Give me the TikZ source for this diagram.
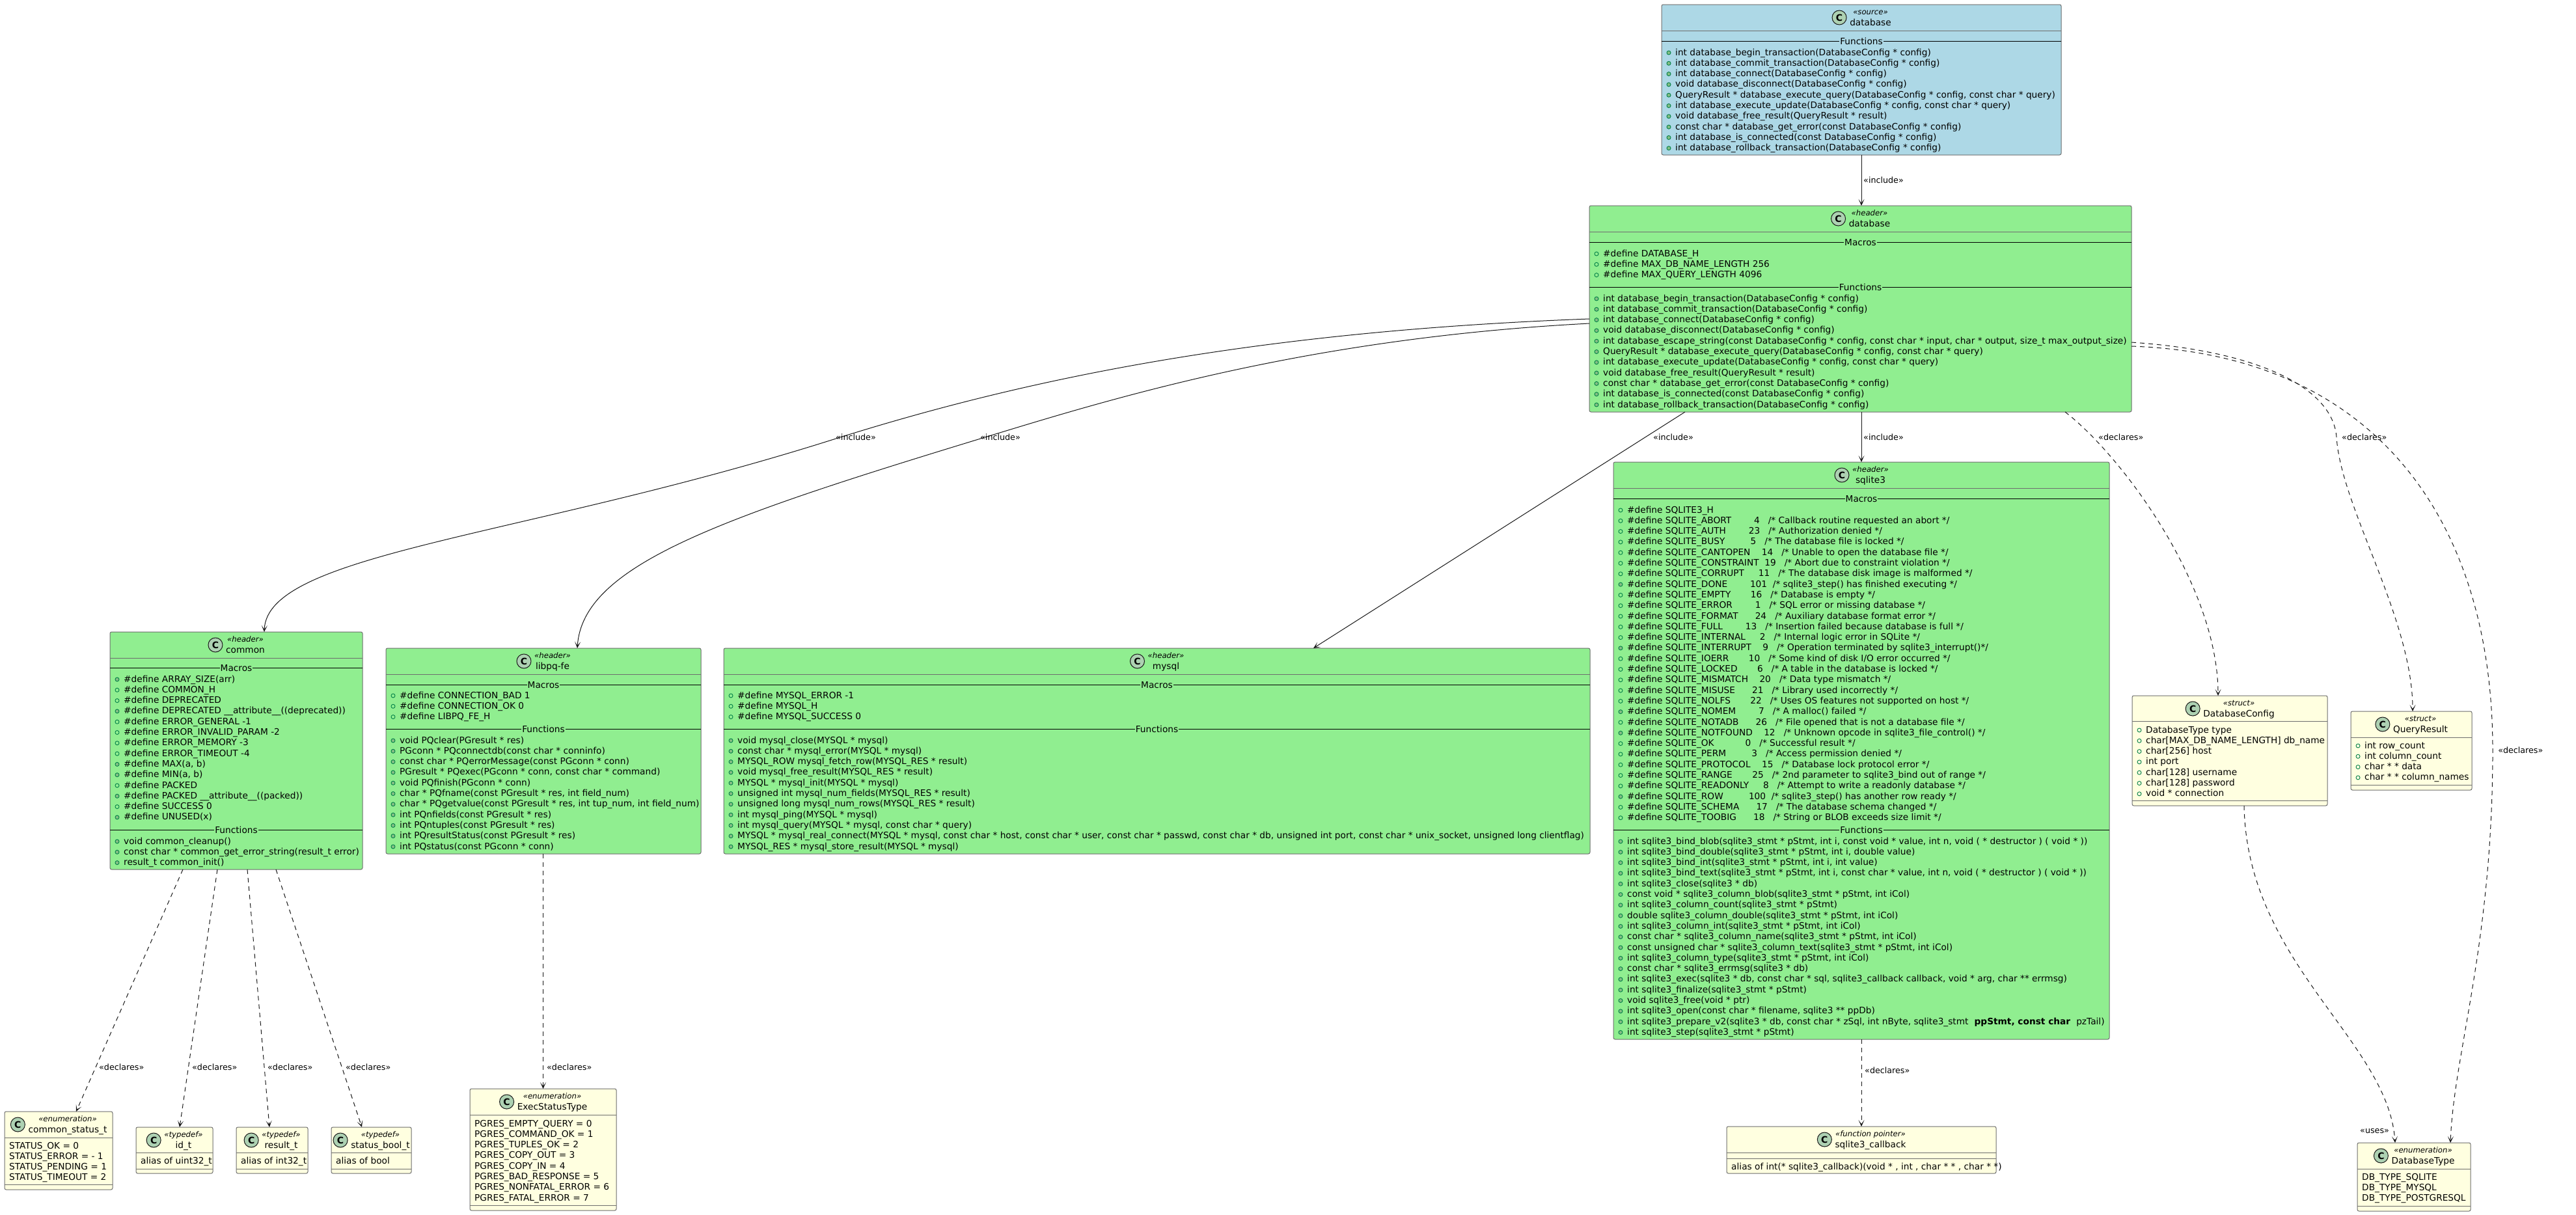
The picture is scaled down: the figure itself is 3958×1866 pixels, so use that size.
\documentclass[tikz,border=0pt]{standalone}
\usepackage{fontspec}
\setmainfont{DejaVu Sans}
\usetikzlibrary{arrows.meta,calc}
\definecolor{gfill}{HTML}{90EE90}
\definecolor{bfill}{HTML}{ADD8E6}
\definecolor{yfill}{HTML}{FFFFE0}
\definecolor{bord}{HTML}{6E6E6E}
\definecolor{cfill}{HTML}{ADD1B2}
\definecolor{ink}{HTML}{181818}
\definecolor{mfill}{HTML}{84BE84}
\definecolor{mline}{HTML}{038048}
\newcommand\rowfont{\fontsize{13.7bp}{16bp}\selectfont}
\newcommand\stereofont{\fontsize{11.7bp}{14bp}\selectfont\itshape}
\newcommand\namefont{\fontsize{13.7bp}{16bp}\selectfont}
\newcommand\lblfont{\fontsize{12.7bp}{15bp}\selectfont}
\newcommand\spc[1]{\hskip#1\fontdimen2\font\relax}
\tikzset{
  boxn/.style={draw=bord, line width=1bp, rounded corners=2.5bp, inner sep=0pt, outer sep=0pt},
  hsep/.style={draw=bord, line width=1bp},
  dsep/.style={draw=black, line width=1bp},
  rowt/.style={anchor=base west, inner sep=0pt, font=\rowfont, text=black},
  dvt/.style={anchor=base, inner sep=0pt, inner xsep=1bp, font=\rowfont},
  fbul/.style={draw=mline, line width=0.9bp},
  mbul/.style={draw=mline, line width=0.9bp, fill=mfill},
  cc/.style={circle, draw=ink, line width=1bp, fill=cfill, minimum size=22bp, inner sep=0pt, font=\bfseries\fontsize{14bp}{14bp}\selectfont},
  stt/.style={anchor=base, inner sep=0pt, font=\stereofont},
  nmt/.style={anchor=base, inner sep=0pt, font=\namefont},
  lbl/.style={anchor=west, inner sep=0pt, font=\lblfont},
  dep/.style={draw=ink, line width=1bp, -{Stealth[length=10bp,width=9bp,inset=6bp]}},
  decl/.style={dep, dash pattern=on 7bp off 6bp},
}
% box: name l t r b headerline fill
\newcommand\bx[7]{%
  \node[boxn, fill=#7, anchor=north west, minimum width={(#4-#2)*1bp}, minimum height={(#5-#3)*1bp}] (#1) at (#2,#3) {};
  \draw[hsep] (#2,#6) -- (#4,#6);}
% title: cx top stereotype name
\newcommand\ttl[4]{%
  \node[stt] (ts) at ({#1+14},{#2+15.5}) {«#3»};
  \node[nmt] (tn) at ({#1+14},{#2+32}) {#4};
  \path let \p1=(ts.west), \p2=(tn.west), \p3=(0,{#2+20}) in node[cc] at ({min(\x1,\x2)-16bp},\y3) {C};}
% rows: left y0 index text
\newcommand\fr[4]{%
  \draw[fbul] ({#1+11},{#2+#3*16.3+1}) circle[radius=3bp];
  \node[rowt] at ({#1+21},{#2+#3*16.3+5}) {#4};}
\newcommand\mr[4]{%
  \draw[mbul] ({#1+11},{#2+#3*16.3+1}) circle[radius=3bp];
  \node[rowt] at ({#1+21},{#2+#3*16.3+5}) {#4};}
\newcommand\pr[4]{%
  \node[rowt] at ({#1+7},{#2+#3*16.3+5}) {#4};}
% divider: l r y label fill
\newcommand\dv[5]{%
  \draw[dsep] (#1,#3) -- (#2,#3);
  \node[dvt, fill=#5] at ({(#1+#2)/2},{#3+5}) {#4};}
\begin{document}
\catcode`\_=12
\begin{tikzpicture}[x=1bp,y=-1bp]
\useasboundingbox (0,0) rectangle (3958,1866);
\fill[white] (0,0) rectangle (3958,1866);

% ---------- source database
\bx{src}{2553}{7}{3167}{238}{47}{bfill}
\ttl{2860}{7}{source}{database}
\dv{2553}{3167}{63}{Functions}{bfill}
\mr{2553}{80}{0}{int database_begin_transaction(DatabaseConfig * config)}
\mr{2553}{80}{1}{int database_commit_transaction(DatabaseConfig * config)}
\mr{2553}{80}{2}{int database_connect(DatabaseConfig * config)}
\mr{2553}{80}{3}{void database_disconnect(DatabaseConfig * config)}
\mr{2553}{80}{4}{QueryResult * database_execute_query(DatabaseConfig * config, const char * query)}
\mr{2553}{80}{5}{int database_execute_update(DatabaseConfig * config, const char * query)}
\mr{2553}{80}{6}{void database_free_result(QueryResult * result)}
\mr{2553}{80}{7}{const char * database_get_error(const DatabaseConfig * config)}
\mr{2553}{80}{8}{int database_is_connected(const DatabaseConfig * config)}
\mr{2553}{80}{9}{int database_rollback_transaction(DatabaseConfig * config)}

% ---------- header database
\bx{hdb}{2442}{316}{3275}{633}{356}{gfill}
\ttl{2858.5}{316}{header}{database}
\dv{2442}{3275}{372}{Macros}{gfill}
\fr{2442}{389}{0}{\#define DATABASE_H}
\fr{2442}{389}{1}{\#define MAX_DB_NAME_LENGTH 256}
\fr{2442}{389}{2}{\#define MAX_QUERY_LENGTH 4096}
\dv{2442}{3275}{441}{Functions}{gfill}
\mr{2442}{458}{0}{int database_begin_transaction(DatabaseConfig * config)}
\mr{2442}{458}{1}{int database_commit_transaction(DatabaseConfig * config)}
\mr{2442}{458}{2}{int database_connect(DatabaseConfig * config)}
\mr{2442}{458}{3}{void database_disconnect(DatabaseConfig * config)}
\mr{2442}{458}{4}{int database_escape_string(const DatabaseConfig * config, const char * input, char * output, size_t max_output_size)}
\mr{2442}{458}{5}{QueryResult * database_execute_query(DatabaseConfig * config, const char * query)}
\mr{2442}{458}{6}{int database_execute_update(DatabaseConfig * config, const char * query)}
\mr{2442}{458}{7}{void database_free_result(QueryResult * result)}
\mr{2442}{458}{8}{const char * database_get_error(const DatabaseConfig * config)}
\mr{2442}{458}{9}{int database_is_connected(const DatabaseConfig * config)}
\mr{2442}{458}{10}{int database_rollback_transaction(DatabaseConfig * config)}

% ---------- common
\bx{com}{169}{971}{557}{1336}{1011}{gfill}
\ttl{363}{971}{header}{common}
\dv{169}{557}{1026}{Macros}{gfill}
\mr{169}{1043}{0}{\#define ARRAY_SIZE(arr)}
\fr{169}{1043}{1}{\#define COMMON_H}
\fr{169}{1043}{2}{\#define DEPRECATED}
\mr{169}{1043}{3}{\#define DEPRECATED __attribute__((deprecated))}
\fr{169}{1043}{4}{\#define ERROR_GENERAL -1}
\fr{169}{1043}{5}{\#define ERROR_INVALID_PARAM -2}
\fr{169}{1043}{6}{\#define ERROR_MEMORY -3}
\fr{169}{1043}{7}{\#define ERROR_TIMEOUT -4}
\mr{169}{1043}{8}{\#define MAX(a, b)}
\mr{169}{1043}{9}{\#define MIN(a, b)}
\fr{169}{1043}{10}{\#define PACKED}
\mr{169}{1043}{11}{\#define PACKED __attribute__((packed))}
\fr{169}{1043}{12}{\#define SUCCESS 0}
\mr{169}{1043}{13}{\#define UNUSED(x)}
\dv{169}{557}{1275}{Functions}{gfill}
\mr{169}{1292}{0}{void common_cleanup()}
\mr{169}{1292}{1}{const char * common_get_error_string(result_t error)}
\mr{169}{1292}{2}{result_t common_init()}

% ---------- libpq-fe
\bx{pq}{593}{996}{1077}{1312}{1036}{gfill}
\ttl{835}{996}{header}{libpq-fe}
\dv{593}{1077}{1052}{Macros}{gfill}
\fr{593}{1068}{0}{\#define CONNECTION_BAD 1}
\fr{593}{1068}{1}{\#define CONNECTION_OK 0}
\fr{593}{1068}{2}{\#define LIBPQ_FE_H}
\dv{593}{1077}{1120}{Functions}{gfill}
\mr{593}{1137}{0}{void PQclear(PGresult * res)}
\mr{593}{1137}{1}{PGconn * PQconnectdb(const char * conninfo)}
\mr{593}{1137}{2}{const char * PQerrorMessage(const PGconn * conn)}
\mr{593}{1137}{3}{PGresult * PQexec(PGconn * conn, const char * command)}
\mr{593}{1137}{4}{void PQfinish(PGconn * conn)}
\mr{593}{1137}{5}{char * PQfname(const PGresult * res, int field_num)}
\mr{593}{1137}{6}{char * PQgetvalue(const PGresult * res, int tup_num, int field_num)}
\mr{593}{1137}{7}{int PQnfields(const PGresult * res)}
\mr{593}{1137}{8}{int PQntuples(const PGresult * res)}
\mr{593}{1137}{9}{int PQresultStatus(const PGresult * res)}
\mr{593}{1137}{10}{int PQstatus(const PGconn * conn)}

% ---------- mysql
\bx{my}{1112}{996}{2443}{1312}{1036}{gfill}
\ttl{1777.5}{996}{header}{mysql}
\dv{1112}{2443}{1052}{Macros}{gfill}
\fr{1112}{1068}{0}{\#define MYSQL_ERROR -1}
\fr{1112}{1068}{1}{\#define MYSQL_H}
\fr{1112}{1068}{2}{\#define MYSQL_SUCCESS 0}
\dv{1112}{2443}{1120}{Functions}{gfill}
\mr{1112}{1137}{0}{void mysql_close(MYSQL * mysql)}
\mr{1112}{1137}{1}{const char * mysql_error(MYSQL * mysql)}
\mr{1112}{1137}{2}{MYSQL_ROW mysql_fetch_row(MYSQL_RES * result)}
\mr{1112}{1137}{3}{void mysql_free_result(MYSQL_RES * result)}
\mr{1112}{1137}{4}{MYSQL * mysql_init(MYSQL * mysql)}
\mr{1112}{1137}{5}{unsigned int mysql_num_fields(MYSQL_RES * result)}
\mr{1112}{1137}{6}{unsigned long mysql_num_rows(MYSQL_RES * result)}
\mr{1112}{1137}{7}{int mysql_ping(MYSQL * mysql)}
\mr{1112}{1137}{8}{int mysql_query(MYSQL * mysql, const char * query)}
\mr{1112}{1137}{9}{MYSQL * mysql_real_connect(MYSQL * mysql, const char * host, const char * user, const char * passwd, const char * db, unsigned int port, const char * unix_socket, unsigned long clientflag)}
\mr{1112}{1137}{10}{MYSQL_RES * mysql_store_result(MYSQL * mysql)}

% ---------- sqlite3
\bx{sq}{2479}{710}{3241}{1597}{750}{gfill}
\ttl{2860}{710}{header}{sqlite3}
\dv{2479}{3241}{766}{Macros}{gfill}
\fr{2479}{783}{0}{\#define SQLITE3_H}
\fr{2479}{783}{1}{\#define SQLITE_ABORT\spc{8}4\spc{3}/* Callback routine requested an abort */}
\fr{2479}{783}{2}{\#define SQLITE_AUTH\spc{8}23\spc{3}/* Authorization denied */}
\fr{2479}{783}{3}{\#define SQLITE_BUSY\spc{9}5\spc{3}/* The database file is locked */}
\fr{2479}{783}{4}{\#define SQLITE_CANTOPEN\spc{4}14\spc{3}/* Unable to open the database file */}
\fr{2479}{783}{5}{\#define SQLITE_CONSTRAINT\spc{2}19\spc{3}/* Abort due to constraint violation */}
\fr{2479}{783}{6}{\#define SQLITE_CORRUPT\spc{5}11\spc{3}/* The database disk image is malformed */}
\mr{2479}{783}{7}{\#define SQLITE_DONE\spc{8}101\spc{2}/* sqlite3_step() has finished executing */}
\fr{2479}{783}{8}{\#define SQLITE_EMPTY\spc{7}16\spc{3}/* Database is empty */}
\fr{2479}{783}{9}{\#define SQLITE_ERROR\spc{8}1\spc{3}/* SQL error or missing database */}
\fr{2479}{783}{10}{\#define SQLITE_FORMAT\spc{6}24\spc{3}/* Auxiliary database format error */}
\fr{2479}{783}{11}{\#define SQLITE_FULL\spc{8}13\spc{3}/* Insertion failed because database is full */}
\fr{2479}{783}{12}{\#define SQLITE_INTERNAL\spc{5}2\spc{3}/* Internal logic error in SQLite */}
\mr{2479}{783}{13}{\#define SQLITE_INTERRUPT\spc{4}9\spc{3}/* Operation terminated by sqlite3_interrupt()*/}
\fr{2479}{783}{14}{\#define SQLITE_IOERR\spc{7}10\spc{3}/* Some kind of disk I/O error occurred */}
\fr{2479}{783}{15}{\#define SQLITE_LOCKED\spc{7}6\spc{3}/* A table in the database is locked */}
\fr{2479}{783}{16}{\#define SQLITE_MISMATCH\spc{4}20\spc{3}/* Data type mismatch */}
\fr{2479}{783}{17}{\#define SQLITE_MISUSE\spc{6}21\spc{3}/* Library used incorrectly */}
\fr{2479}{783}{18}{\#define SQLITE_NOLFS\spc{7}22\spc{3}/* Uses OS features not supported on host */}
\mr{2479}{783}{19}{\#define SQLITE_NOMEM\spc{8}7\spc{3}/* A malloc() failed */}
\fr{2479}{783}{20}{\#define SQLITE_NOTADB\spc{6}26\spc{3}/* File opened that is not a database file */}
\mr{2479}{783}{21}{\#define SQLITE_NOTFOUND\spc{4}12\spc{3}/* Unknown opcode in sqlite3_file_control() */}
\fr{2479}{783}{22}{\#define SQLITE_OK\spc{11}0\spc{3}/* Successful result */}
\fr{2479}{783}{23}{\#define SQLITE_PERM\spc{9}3\spc{3}/* Access permission denied */}
\fr{2479}{783}{24}{\#define SQLITE_PROTOCOL\spc{4}15\spc{3}/* Database lock protocol error */}
\fr{2479}{783}{25}{\#define SQLITE_RANGE\spc{7}25\spc{3}/* 2nd parameter to sqlite3_bind out of range */}
\fr{2479}{783}{26}{\#define SQLITE_READONLY\spc{5}8\spc{3}/* Attempt to write a readonly database */}
\mr{2479}{783}{27}{\#define SQLITE_ROW\spc{9}100\spc{2}/* sqlite3_step() has another row ready */}
\fr{2479}{783}{28}{\#define SQLITE_SCHEMA\spc{6}17\spc{3}/* The database schema changed */}
\fr{2479}{783}{29}{\#define SQLITE_TOOBIG\spc{6}18\spc{3}/* String or BLOB exceeds size limit */}
\dv{2479}{3241}{1275}{Functions}{gfill}
\mr{2479}{1292}{0}{int sqlite3_bind_blob(sqlite3_stmt * pStmt, int i, const void * value, int n, void ( * destructor ) ( void * ))}
\mr{2479}{1292}{1}{int sqlite3_bind_double(sqlite3_stmt * pStmt, int i, double value)}
\mr{2479}{1292}{2}{int sqlite3_bind_int(sqlite3_stmt * pStmt, int i, int value)}
\mr{2479}{1292}{3}{int sqlite3_bind_text(sqlite3_stmt * pStmt, int i, const char * value, int n, void ( * destructor ) ( void * ))}
\mr{2479}{1292}{4}{int sqlite3_close(sqlite3 * db)}
\mr{2479}{1292}{5}{const void * sqlite3_column_blob(sqlite3_stmt * pStmt, int iCol)}
\mr{2479}{1292}{6}{int sqlite3_column_count(sqlite3_stmt * pStmt)}
\mr{2479}{1292}{7}{double sqlite3_column_double(sqlite3_stmt * pStmt, int iCol)}
\mr{2479}{1292}{8}{int sqlite3_column_int(sqlite3_stmt * pStmt, int iCol)}
\mr{2479}{1292}{9}{const char * sqlite3_column_name(sqlite3_stmt * pStmt, int iCol)}
\mr{2479}{1292}{10}{const unsigned char * sqlite3_column_text(sqlite3_stmt * pStmt, int iCol)}
\mr{2479}{1292}{11}{int sqlite3_column_type(sqlite3_stmt * pStmt, int iCol)}
\mr{2479}{1292}{12}{const char * sqlite3_errmsg(sqlite3 * db)}
\mr{2479}{1292}{13}{int sqlite3_exec(sqlite3 * db, const char * sql, sqlite3_callback callback, void * arg, char ** errmsg)}
\mr{2479}{1292}{14}{int sqlite3_finalize(sqlite3_stmt * pStmt)}
\mr{2479}{1292}{15}{void sqlite3_free(void * ptr)}
\mr{2479}{1292}{16}{int sqlite3_open(const char * filename, sqlite3 ** ppDb)}
\mr{2479}{1292}{17}{int sqlite3_prepare_v2(sqlite3 * db, const char * zSql, int nByte, sqlite3_stmt\spc{1}\textbf{\spc{1}ppStmt, const char\spc{1}}\spc{1}pzTail)}
\mr{2479}{1292}{18}{int sqlite3_step(sqlite3_stmt * pStmt)}

% ---------- DatabaseConfig
\bx{dc}{3276}{1069}{3576}{1238}{1108}{yfill}
\ttl{3426}{1069}{struct}{DatabaseConfig}
\fr{3276}{1121}{0}{DatabaseType type}
\fr{3276}{1121}{1}{char[MAX_DB_NAME_LENGTH] db_name}
\fr{3276}{1121}{2}{char[256] host}
\fr{3276}{1121}{3}{int port}
\fr{3276}{1121}{4}{char[128] username}
\fr{3276}{1121}{5}{char[128] password}
\fr{3276}{1121}{6}{void * connection}
\draw[hsep] (3276,1230) -- (3576,1230);

% ---------- QueryResult
\bx{qr}{3612}{1093}{3798}{1214}{1133}{yfill}
\ttl{3705}{1093}{struct}{QueryResult}
\fr{3612}{1145}{0}{int row_count}
\fr{3612}{1145}{1}{int column_count}
\fr{3612}{1145}{2}{char * * data}
\fr{3612}{1145}{3}{char * * column_names}
\draw[hsep] (3612,1206) -- (3798,1206);

% ---------- bottom row
\bx{cst}{7}{1708}{173}{1828}{1748}{yfill}
\ttl{90}{1708}{enumeration}{common_status_t}
\pr{7}{1760}{0}{STATUS_OK = 0}
\pr{7}{1760}{1}{STATUS_ERROR = - 1}
\pr{7}{1760}{2}{STATUS_PENDING = 1}
\pr{7}{1760}{3}{STATUS_TIMEOUT = 2}
\draw[hsep] (7,1820) -- (173,1820);

\bx{idt}{209}{1732}{327}{1803}{1771}{yfill}
\ttl{268}{1732}{typedef}{id_t}
\pr{209}{1783}{0}{alias of uint32_t}
\draw[hsep] (209,1796) -- (327,1796);

\bx{rst}{363}{1732}{473}{1803}{1771}{yfill}
\ttl{418}{1732}{typedef}{result_t}
\pr{363}{1783}{0}{alias of int32_t}
\draw[hsep] (363,1796) -- (473,1796);

\bx{sbt}{509}{1732}{632}{1803}{1771}{yfill}
\ttl{570.5}{1732}{typedef}{status_bool_t}
\pr{509}{1783}{0}{alias of bool}
\draw[hsep] (509,1796) -- (632,1796);

\bx{est}{722}{1673}{947}{1860}{1713}{yfill}
\ttl{834.5}{1673}{enumeration}{ExecStatusType}
\pr{722}{1726}{0}{PGRES_EMPTY_QUERY = 0}
\pr{722}{1726}{1}{PGRES_COMMAND_OK = 1}
\pr{722}{1726}{2}{PGRES_TUPLES_OK = 2}
\pr{722}{1726}{3}{PGRES_COPY_OUT = 3}
\pr{722}{1726}{4}{PGRES_COPY_IN = 4}
\pr{722}{1726}{5}{PGRES_BAD_RESPONSE = 5}
\pr{722}{1726}{6}{PGRES_NONFATAL_ERROR = 6}
\pr{722}{1726}{7}{PGRES_FATAL_ERROR = 7}
\draw[hsep] (722,1852) -- (947,1852);

\bx{cb}{2653}{1731}{3067}{1803}{1771}{yfill}
\ttl{2860}{1731}{function pointer}{sqlite3_callback}
\draw[hsep] (2653,1780) -- (3067,1780);
\pr{2653}{1792}{0}{alias of int(* sqlite3_callback)(void * , int , char * * , char * *)}

\bx{dt}{3622}{1756}{3796}{1861}{1796}{yfill}
\ttl{3709}{1756}{enumeration}{DatabaseType}
\pr{3622}{1808}{0}{DB_TYPE_SQLITE}
\pr{3622}{1808}{1}{DB_TYPE_MYSQL}
\pr{3622}{1808}{2}{DB_TYPE_POSTGRESQL}
\draw[hsep] (3622,1853) -- (3796,1853);

% ---------- connectors
\draw[dep] (src.south) -- (src.south |- hdb.north);
\node[lbl] (l0) at (2863,277) {«include»};

\coordinate (hdbL1) at (2442,490);
\coordinate (hdbL2) at (2442,497);
\coordinate (comT) at (406,971);
\coordinate (pqT) at (887,996);
\draw[dep] (hdbL1) .. controls (1900,510) and (1550,590) .. (1278,676) .. controls (800,827) and (410,850) .. (comT);
\node[lbl] (l1) at (1284,672) {«include»};
\draw[dep] (hdbL2) .. controls (2000,520) and (1700,615) .. (1500,676) .. controls (1100,798) and (895,870) .. (pqT);
\node[lbl] (l2) at (1506,672) {«include»};

\coordinate (hdbB1) at (2589,633);
\coordinate (myT) at (2018,996);
\draw[dep] (hdbB1) -- (myT);
\node[lbl] (l3) at (2540,672) {«include»};

\draw[dep] (hdb.south -| sq.north) -- (sq.north);
\node[lbl] (l4) at (2863,672) {«include»};

\coordinate (hdbB2) at (3173,633);
\coordinate (dcT) at (3408,1069);
\draw[decl] (hdbB2) .. controls (3260,700) and (3408,900) .. (dcT);
\node[lbl] (l5) at (3224,672) {«declares»};

\coordinate (hdbR1) at (3275,526);
\coordinate (hdbR2) at (3275,532);
\coordinate (qrT) at (3707,1093);
\coordinate (dtT1) at (3765,1756);
\draw[decl] (hdbR1) .. controls (3480,540) and (3585,600) .. (3590,672) .. controls (3597,780) and (3707,950) .. (qrT);
\node[lbl] (l6) at (3598,672) {«declares»};
\draw[decl] (hdbR2) .. controls (3650,545) and (3830,800) .. (3830,1153) .. controls (3830,1450) and (3770,1620) .. (dtT1);
\node[lbl] (l7) at (3838,1153) {«declares»};

\coordinate (dcB) at (3448,1238);
\coordinate (dtT2) at (3680,1756);
\draw[decl] (dcB) .. controls (3452,1480) and (3670,1600) .. (dtT2);
\node[lbl] (l8) at (3626,1738) {«uses»};

\coordinate (comB1) at (281,1336);
\coordinate (comB2) at (334,1336);
\coordinate (comB3) at (380,1336);
\coordinate (comB4) at (424,1336);
\draw[decl] (comB1) -- (cst.north -| 117,0);
\draw[decl] (comB2) -- (idt.north -| 276,0);
\draw[decl] (comB3) -- (rst.north -| 414,0);
\draw[decl] (comB4) -- (sbt.north -| 556,0);
\node[lbl] (l9) at (152,1640) {«declares»};
\node[lbl] (l10) at (295,1640) {«declares»};
\node[lbl] (l11) at (411,1640) {«declares»};
\node[lbl] (l12) at (531,1640) {«declares»};

\draw[decl] (pq.south -| est.north) -- (est.north);
\node[lbl] (l13) at (840,1640) {«declares»};

\draw[decl] (sq.south -| cb.north) -- (cb.north);
\node[lbl] (l14) at (2865,1645) {«declares»};
\end{tikzpicture}
\end{document}
